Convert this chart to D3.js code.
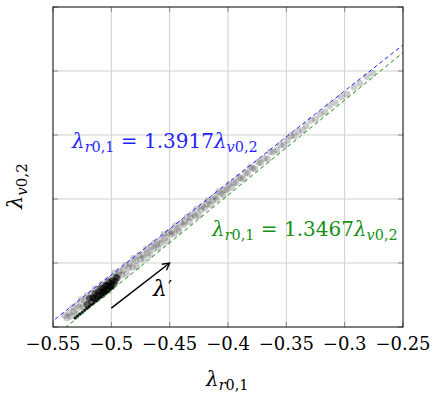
<!DOCTYPE html>
<html>
<head>
<meta charset="utf-8">
<script src="https://cdn.jsdelivr.net/npm/d3@7"></script>
<style>
  body { margin: 0; background: #fff; }
  svg text { font-family: "DejaVu Serif", serif; }
</style>
</head>
<body>
<script>
// axis ranges and ticks
var xDomain = [-0.55, -0.25];
var yDomain = [-0.40, -0.15];
var xTicks = [-0.55, -0.5, -0.45, -0.4, -0.35, -0.3, -0.25];
var xTickLabels = ["\u22120.55", "\u22120.5", "\u22120.45", "\u22120.4", "\u22120.35", "\u22120.3", "\u22120.25"];
var yTicks = [-0.4, -0.35, -0.3, -0.25, -0.2, -0.15];

// fitted slopes: lambda_r = k * lambda_v
var fitK = [1.3917, 1.3467];
var fitColor = ["#1f1fff", "#159015"];

// scattered samples [lambda_r, lambda_v]
var spread = [
  [-0.540, -0.3910], [-0.538, -0.3927], [-0.536, -0.3891], [-0.535, -0.3916], [-0.533, -0.3848],
  [-0.532, -0.3878], [-0.530, -0.3896], [-0.529, -0.3830], [-0.527, -0.3847], [-0.526, -0.3787],
  [-0.524, -0.3841], [-0.523, -0.3797], [-0.521, -0.3756], [-0.520, -0.3827], [-0.518, -0.3771],
  [-0.517, -0.3738], [-0.515, -0.3765], [-0.514, -0.3701], [-0.512, -0.3758], [-0.511, -0.3705],
  [-0.509, -0.3711], [-0.508, -0.3663], [-0.506, -0.3729], [-0.505, -0.3671], [-0.503, -0.3632],
  [-0.502, -0.3680], [-0.500, -0.3625], [-0.499, -0.3643], [-0.497, -0.3578], [-0.496, -0.3646],
  [-0.494, -0.3591], [-0.493, -0.3564], [-0.491, -0.3594], [-0.490, -0.3557], [-0.488, -0.3518],
  [-0.487, -0.3584], [-0.485, -0.3536], [-0.484, -0.3504], [-0.482, -0.3533], [-0.481, -0.3463],
  [-0.479, -0.3482], [-0.478, -0.3528], [-0.476, -0.3441], [-0.475, -0.3472], [-0.473, -0.3434],
  [-0.472, -0.3464], [-0.470, -0.3389], [-0.469, -0.3419], [-0.467, -0.3437], [-0.466, -0.3374],
  [-0.464, -0.3392], [-0.463, -0.3343], [-0.461, -0.3356], [-0.460, -0.3381], [-0.458, -0.3321],
  [-0.457, -0.3345], [-0.455, -0.3276], [-0.454, -0.3301], [-0.452, -0.3331], [-0.451, -0.3261],
  [-0.449, -0.3278], [-0.448, -0.3252], [-0.446, -0.3269], [-0.445, -0.3208], [-0.443, -0.3229],
  [-0.442, -0.3249], [-0.440, -0.3186], [-0.438, -0.3202], [-0.437, -0.3177], [-0.435, -0.3141],
  [-0.433, -0.3178], [-0.432, -0.3145], [-0.430, -0.3118], [-0.428, -0.3133], [-0.427, -0.3079],
  [-0.425, -0.3128], [-0.423, -0.3084], [-0.422, -0.3055], [-0.420, -0.3070], [-0.418, -0.3039],
  [-0.417, -0.3011], [-0.415, -0.3046], [-0.413, -0.3011], [-0.411, -0.2980], [-0.410, -0.3001],
  [-0.408, -0.2942], [-0.406, -0.2956], [-0.404, -0.2969], [-0.403, -0.2926], [-0.401, -0.2927],
  [-0.399, -0.2885], [-0.397, -0.2910], [-0.395, -0.2872], [-0.393, -0.2873], [-0.391, -0.2831],
  [-0.389, -0.2836], [-0.387, -0.2844], [-0.385, -0.2795], [-0.383, -0.2800], [-0.381, -0.2751],
  [-0.379, -0.2759], [-0.377, -0.2763], [-0.374, -0.2712], [-0.372, -0.2716], [-0.369, -0.2683],
  [-0.366, -0.2686], [-0.364, -0.2632], [-0.361, -0.2632], [-0.358, -0.2617], [-0.355, -0.2577],
  [-0.352, -0.2580], [-0.349, -0.2541], [-0.346, -0.2505], [-0.343, -0.2507], [-0.340, -0.2472],
  [-0.336, -0.2463], [-0.333, -0.2428], [-0.329, -0.2385], [-0.325, -0.2376], [-0.321, -0.2337],
  [-0.317, -0.2320], [-0.313, -0.2272], [-0.308, -0.2248], [-0.303, -0.2203], [-0.298, -0.2181],
  [-0.292, -0.2126], [-0.287, -0.2095], [-0.281, -0.2043], [-0.276, -0.2018]
];

// dense cluster near the start
var core = [
  [-0.521, -0.3824], [-0.519, -0.3778], [-0.517, -0.3805], [-0.516, -0.3772], [-0.515, -0.3775],
  [-0.514, -0.3737], [-0.513, -0.3781], [-0.512, -0.3748], [-0.511, -0.3725], [-0.510, -0.3749],
  [-0.509, -0.3695], [-0.508, -0.3749], [-0.508, -0.3724], [-0.507, -0.3701], [-0.506, -0.3714],
  [-0.506, -0.3729], [-0.505, -0.3676], [-0.504, -0.3709], [-0.504, -0.3674], [-0.503, -0.3677],
  [-0.503, -0.3712], [-0.502, -0.3650], [-0.501, -0.3682], [-0.500, -0.3660], [-0.500, -0.3685],
  [-0.499, -0.3638], [-0.498, -0.3665], [-0.497, -0.3643], [-0.496, -0.3611], [-0.495, -0.3618]
];

// lower edge of the cluster
var edge = [
  [-0.531, -0.3929], [-0.529, -0.3915], [-0.527, -0.3900], [-0.525, -0.3885], [-0.523, -0.3870],
  [-0.521, -0.3855], [-0.519, -0.3841], [-0.517, -0.3826], [-0.515, -0.3811], [-0.513, -0.3796],
  [-0.511, -0.3781], [-0.509, -0.3767], [-0.507, -0.3752], [-0.505, -0.3737], [-0.503, -0.3722],
  [-0.501, -0.3707], [-0.499, -0.3693]
];

// arrow lambda'
var arrowFrom = [-0.50, -0.3852];
var arrowTo = [-0.45, -0.35];

var W = 440, H = 398;
var svg = d3.select('body').append('svg').attr('width', W).attr('height', H)
  .attr('font-family', '"DejaVu Serif", serif');

var x = d3.scaleLinear().domain(xDomain).range([53, 403]);
var y = d3.scaleLinear().domain(yDomain).range([327, 7]);

svg.append('clipPath').attr('id', 'clip')
  .append('rect').attr('x', 53).attr('y', 7).attr('width', 350).attr('height', 320);

// grid
svg.append('g').selectAll('line').data(xTicks.slice(1, -1)).enter().append('line')
  .attr('x1', d => x(d)).attr('x2', d => x(d)).attr('y1', 7).attr('y2', 327)
  .style('stroke', '#cfcfcf').style('stroke-width', 1);
svg.append('g').selectAll('line').data(yTicks.slice(1, -1)).enter().append('line')
  .attr('y1', d => y(d)).attr('y2', d => y(d)).attr('x1', 53).attr('x2', 403)
  .style('stroke', '#cfcfcf').style('stroke-width', 1);

// inner tick marks
var tk = svg.append('g').style('stroke', '#888').style('stroke-width', 1);
xTicks.forEach(function(d) {
  tk.append('line').attr('x1', x(d)).attr('x2', x(d)).attr('y1', 327).attr('y2', 322);
  tk.append('line').attr('x1', x(d)).attr('x2', x(d)).attr('y1', 7).attr('y2', 12);
});
yTicks.forEach(function(d) {
  tk.append('line').attr('y1', y(d)).attr('y2', y(d)).attr('x1', 53).attr('x2', 58);
  tk.append('line').attr('y1', y(d)).attr('y2', y(d)).attr('x1', 403).attr('x2', 398);
});

var plot = svg.append('g').attr('clip-path', 'url(#clip)');

// samples
plot.append('g').selectAll('circle').data(spread).enter().append('circle')
  .attr('cx', d => x(d[0])).attr('cy', d => y(d[1])).attr('r', 3.4)
  .style('fill', '#444').style('opacity', 0.27);
plot.append('g').selectAll('circle').data(core).enter().append('circle')
  .attr('cx', d => x(d[0])).attr('cy', d => y(d[1])).attr('r', 3.4)
  .style('fill', '#000').style('opacity', 0.5);
plot.append('g').selectAll('circle').data(edge).enter().append('circle')
  .attr('cx', d => x(d[0])).attr('cy', d => y(d[1])).attr('r', 1.6)
  .style('fill', '#000').style('opacity', 0.9);

// fitted lines
fitK.forEach(function(k, i) {
  var a = -0.6, b = -0.2;
  plot.append('line')
    .attr('x1', x(a)).attr('y1', y(a / k))
    .attr('x2', x(b)).attr('y2', y(b / k))
    .style('stroke', fitColor[i]).style('stroke-width', 1)
    .style('stroke-dasharray', '4,3');
});

// axis box
svg.append('rect').attr('x', 53).attr('y', 7).attr('width', 350).attr('height', 320)
  .style('fill', 'none').style('stroke', '#000').style('stroke-width', 1);

// x tick labels
svg.append('g').selectAll('text').data(xTicks).enter().append('text')
  .attr('x', d => x(d)).attr('y', 350)
  .attr('text-anchor', 'middle')
  .style('font-size', '18px')
  .text((d, i) => xTickLabels[i]);

// math-ish label helper
function mathText(g, parts, size) {
  var t = g.append('text').style('font-size', size + 'px');
  var sub = false;
  parts.forEach(function(p) {
    var s = t.append('tspan').text(p[0]);
    if (p[1].indexOf('i') >= 0) s.style('font-style', 'italic');
    var isSub = p[1].indexOf('s') >= 0;
    if (isSub) s.style('font-size', (size * 0.72) + 'px');
    if (isSub && !sub) s.attr('dy', size * 0.22);
    if (!isSub && sub) s.attr('dy', -size * 0.22);
    sub = isSub;
  });
  return t;
}

var lblParts = function(k) {
  return [['λ', 'i'], ['r', 'is'], ['0,1', 's'], [' = ' + k, ''], ['λ', 'i'], ['v', 'is'], ['0,2', 's']];
};

mathText(svg, lblParts('1.3917'), 20).attr('x', 72).attr('y', 148).style('fill', fitColor[0]);
mathText(svg, lblParts('1.3467'), 20).attr('x', 212).attr('y', 236).style('fill', fitColor[1]);

// axis labels
mathText(svg, [['λ', 'i'], ['r', 'is'], ['0,1', 's']], 20).attr('x', 206).attr('y', 386);
mathText(svg, [['λ', 'i'], ['v', 'is'], ['0,2', 's']], 21)
  .attr('transform', 'translate(22,209) rotate(-90)');

// arrow
var ax1 = x(arrowFrom[0]), ay1 = y(arrowFrom[1]), ax2 = x(arrowTo[0]), ay2 = y(arrowTo[1]);
svg.append('line').attr('x1', ax1).attr('y1', ay1).attr('x2', ax2).attr('y2', ay2)
  .style('stroke', '#000').style('stroke-width', 1.5);
var ang = Math.atan2(ay2 - ay1, ax2 - ax1);
var hl = 8, ha = 0.5;
svg.append('path')
  .attr('d', 'M' + (ax2 - hl * Math.cos(ang - ha)) + ',' + (ay2 - hl * Math.sin(ang - ha)) +
    'L' + ax2 + ',' + ay2 +
    'L' + (ax2 - hl * Math.cos(ang + ha)) + ',' + (ay2 - hl * Math.sin(ang + ha)))
  .style('fill', 'none').style('stroke', '#000').style('stroke-width', 1.3);
var lp = svg.append('text').attr('x', 153).attr('y', 296).style('font-size', '22px');
lp.append('tspan').style('font-style', 'italic').text('λ');
lp.append('tspan').attr('dx', 1).attr('dy', -2).style('font-size', '18px').text('\u2032');
</script>
</body>
</html>
